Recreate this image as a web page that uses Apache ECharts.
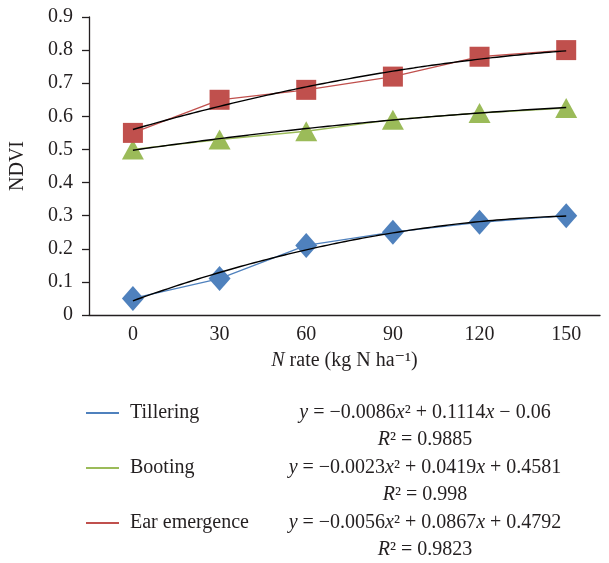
<!DOCTYPE html>
<html><head><meta charset="utf-8">
<script src="https://cdn.jsdelivr.net/npm/echarts@6/dist/echarts.min.js"></script>
<style>html,body{margin:0;padding:0;background:#fff}#c{width:609px;height:563px}</style>
</head><body><div id="c"></div>
<script>
const categories = [0, 30, 60, 90, 120, 150];
const tillering = [0.05, 0.11, 0.21, 0.25, 0.28, 0.30];
const booting = [0.50, 0.53, 0.555, 0.59, 0.61, 0.625];
const earEmergence = [0.55, 0.65, 0.68, 0.72, 0.78, 0.80];
const seriesNames = ['Tillering', 'Booting', 'Ear emergence'];
// trendline coefficients [a, b, c]: y = a x^2 + b x + c (x = point index 1..6)
const fitTillering = [-0.0086, 0.1114, -0.06];
const fitBooting = [-0.0023, 0.0419, 0.4581];
const fitEar = [-0.0056, 0.0867, 0.4792];
const fitLabels = [['−0.0086', '0.1114', '− 0.06', '0.9885'], ['−0.0023', '0.0419', '+ 0.4581', '0.998'], ['−0.0056', '0.0867', '+ 0.4792', '0.9823']];
const yTicks = [0, 0.1, 0.2, 0.3, 0.4, 0.5, 0.6, 0.7, 0.8, 0.9];

const colors = ['#4F81BD', '#9BBB59', '#C0504D'];
const FONT = '"Liberation Serif", "DejaVu Serif", serif';
const TXT = '#231f20';
const FS = 20;

function pts(arr) { return categories.map((c, i) => [c, arr[i]]); }
function trend(coef) {
  const out = [];
  const step = categories[1] - categories[0];
  for (let k = 0; k <= 100; k++) {
    const x = 1 + 5 * k / 100;
    const y = coef[0] * x * x + coef[1] * x + coef[2];
    out.push([categories[0] + (x - 1) * step, y]);
  }
  return out;
}

const chart = echarts.init(document.getElementById('c'), null, {renderer: 'canvas'});
const dataSets = [tillering, booting, earEmergence];
const fits = [fitTillering, fitBooting, fitEar];
const symbols = ['diamond', 'triangle', 'rect'];
const symSizes = [[22, 25], [22, 20], [20, 20]];

const series = [];
dataSets.forEach((d, i) => {
  series.push({
    name: seriesNames[i], type: 'line', data: pts(d), symbol: symbols[i], symbolSize: symSizes[i],
    showSymbol: true, itemStyle: {color: colors[i], opacity: 1}, lineStyle: {color: colors[i], width: 1.3},
    z: 2, animation: false
  });
});
fits.forEach((f, i) => {
  series.push({
    name: 'fit' + i, type: 'line', data: trend(f), showSymbol: false, symbol: 'none', smooth: false,
    lineStyle: {color: '#000', width: 1.4}, z: 3, animation: false, silent: true
  });
});

const graphics = [];
const eqY = [413, 468, 523];
fitLabels.forEach((f, i) => {
  graphics.push({
    type: 'text', x: 425, y: eqY[i], style: {
      text: '{i|y} = ' + f[0] + '{i|x}² + ' + f[1] + '{i|x} ' + f[2],
      font: FS + 'px ' + FONT, fill: TXT, align: 'center', verticalAlign: 'middle',
      rich: {i: {fontStyle: 'italic', fontSize: FS, fontFamily: FONT, fill: TXT}}
    }
  });
  graphics.push({
    type: 'text', x: 425, y: eqY[i] + 27, style: {
      text: '{i|R}² = ' + f[3],
      font: FS + 'px ' + FONT, fill: TXT, align: 'center', verticalAlign: 'middle',
      rich: {i: {fontStyle: 'italic', fontSize: FS, fontFamily: FONT, fill: TXT}}
    }
  });
});

chart.setOption({
  backgroundColor: '#fff',
  animation: false,
  grid: {left: 89, right: 9, top: 17, bottom: 248},
  xAxis: {
    type: 'value', min: -15.2, max: 161.7,
    axisLine: {show: true, lineStyle: {color: '#231f20', width: 1.3}, onZero: false},
    axisTick: {show: false},
    splitLine: {show: false},
    axisLabel: {customValues: categories, color: TXT, fontFamily: FONT, fontSize: FS, margin: 10},
    name: '{i|N} rate (kg N ha⁻¹)', nameLocation: 'middle', nameGap: 36,
    nameTextStyle: {color: TXT, fontFamily: FONT, fontSize: FS,
      rich: {i: {fontStyle: 'italic', fontFamily: FONT, fontSize: FS, color: TXT}}}
  },
  yAxis: {
    type: 'value', min: 0, max: 0.9, interval: 0.1,
    axisLine: {show: true, onZero: false, lineStyle: {color: '#231f20', width: 1.3}},
    axisTick: {show: true, length: 7, inside: false, lineStyle: {color: '#231f20', width: 1.3}},
    splitLine: {show: false},
    axisLabel: {color: TXT, fontFamily: FONT, fontSize: FS, margin: 16, formatter: v => v === 0 ? '0' : v.toFixed(1)},
    name: 'NDVI', nameLocation: 'middle', nameGap: 61,
    nameTextStyle: {color: TXT, fontFamily: FONT, fontSize: FS}
  },
  legend: {
    data: seriesNames, orient: 'vertical', left: 86, top: 403, itemGap: 35, padding: 0,
    itemWidth: 33, itemHeight: 2, icon: 'rect',
    textStyle: {color: TXT, fontFamily: FONT, fontSize: FS, padding: [0, 0, 0, 6]},
    selectedMode: false
  },
  series: series,
  graphic: graphics
});
</script></body></html>
